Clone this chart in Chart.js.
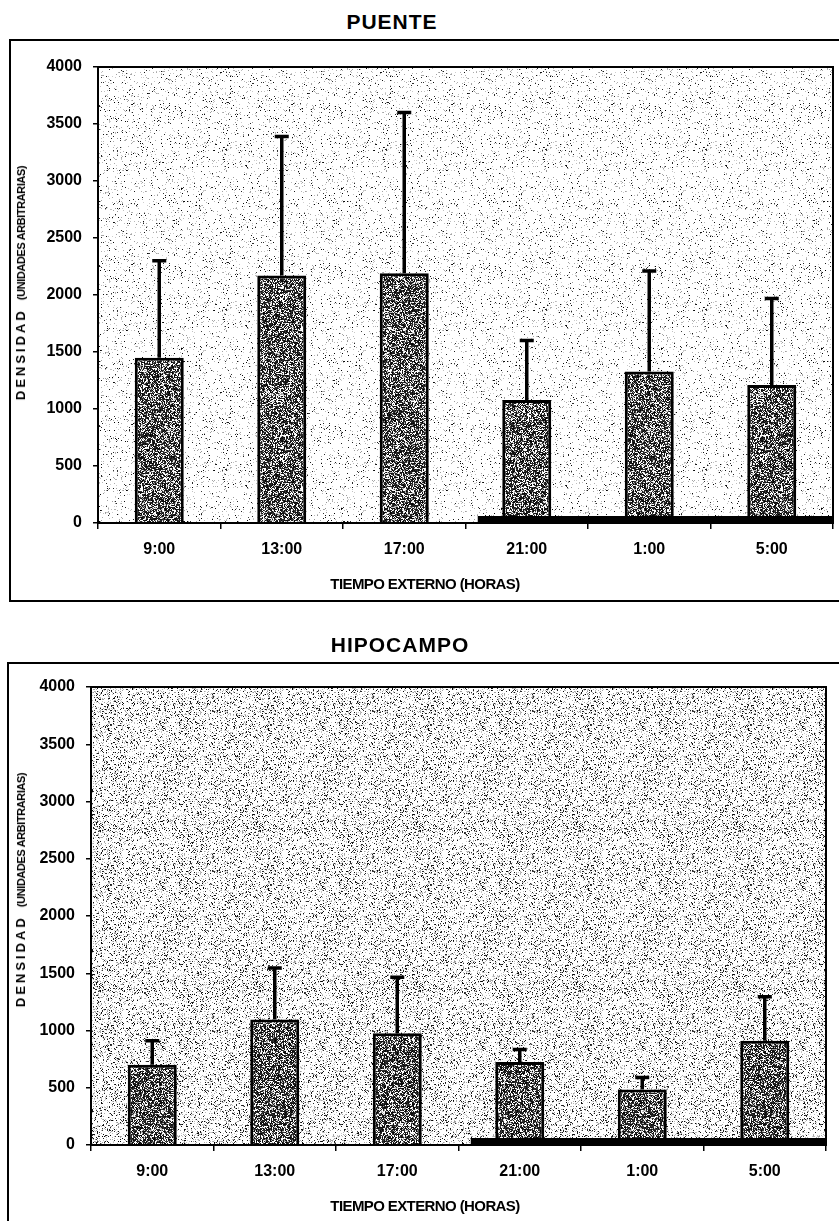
<!DOCTYPE html>
<html>
<head>
<meta charset="utf-8">
<title>PUENTE / HIPOCAMPO</title>
<script src="https://cdn.jsdelivr.net/npm/chart.js@4.4.1/dist/chart.umd.min.js"></script>
<style>
  html, body { margin: 0; padding: 0; background: #fff; }
  body { position: relative; width: 839px; height: 1221px; overflow: hidden;
         font-family: "Liberation Sans", Arial, sans-serif; color: #000; }
  canvas { position: absolute; }
  .lbl { position: absolute; transform: translate(-50%, -50%); white-space: nowrap; font-weight: bold; }
  .title { font-size: 21px; letter-spacing: 1px; }
  .xt { font-family: "Liberation Sans Narrow", "Arial Narrow", "Liberation Sans", Arial, sans-serif;
        font-size: 15px; letter-spacing: -0.6px; }
  .yt { transform: translate(-50%, -50%) rotate(-90deg); }
  .yt .d { font-size: 13px; letter-spacing: 3px; }
  .yt .u { font-family: "Liberation Sans Narrow", "Arial Narrow", "Liberation Sans", Arial, sans-serif;
           font-size: 11px; letter-spacing: -0.4px; margin-left: 8px; }
</style>
</head>
<body>

<div class="lbl title" style="left:392px; top:22px;">PUENTE</div>
<canvas id="puente" width="830" height="563" style="left:9px; top:39px;"></canvas>
<div class="lbl yt" style="left:20px; top:283px;"><span class="d">DENSIDAD</span><span class="u">(UNIDADES ARBITRARIAS)</span></div>
<div class="lbl xt" style="left:425px; top:583px;">TIEMPO EXTERNO (HORAS)</div>

<div class="lbl title" style="left:400px; top:645px;">HIPOCAMPO</div>
<canvas id="hipocampo" width="832" height="559" style="left:7px; top:662px;"></canvas>
<div class="lbl yt" style="left:20px; top:890px;"><span class="d">DENSIDAD</span><span class="u">(UNIDADES ARBITRARIAS)</span></div>
<div class="lbl xt" style="left:425px; top:1205px;">TIEMPO EXTERNO (HORAS)</div>

<script>
// ---- data ----
const hours = ["9:00", "13:00", "17:00", "21:00", "1:00", "5:00"];
const densityMax = 4000;
const densityStep = 500;

const puenteMean = [1450, 2170, 2190, 1080, 1330, 1210];
const puenteSD   = [850, 1220, 1410, 520, 880, 760];

const hipocampoMean = [700, 1095, 975, 725, 485, 910];
const hipocampoSD   = [210, 450, 490, 110, 105, 385];

// dark phase (thick bar on the baseline), in category-index units
const darkPhase = [2.6, 5.5];

/* stippled textures so the plot looks like the photocopied original */
const Texture = {
  rng(seed) {
    return function () {
      seed |= 0; seed = seed + 0x6D2B79F5 | 0;
      let t = Math.imul(seed ^ seed >>> 15, 1 | seed);
      t = t + Math.imul(t ^ t >>> 7, 61 | t) ^ t;
      return ((t ^ t >>> 14) >>> 0) / 4294967296;
    };
  },

  stipple(ctx, dark, mid, seed) {
    const size = 160;
    const tile = document.createElement("canvas");
    tile.width = tile.height = size;
    const g = tile.getContext("2d");
    const img = g.createImageData(size, size);
    const r = this.rng(seed);
    for (let i = 0; i < size * size; i++) {
      const p = r();
      let v = 255;
      if (p < dark) v = Math.floor(r() * 60);
      else if (p < dark + mid) v = 150 + Math.floor(r() * 60);
      img.data[i * 4] = img.data[i * 4 + 1] = img.data[i * 4 + 2] = v;
      img.data[i * 4 + 3] = 255;
    }
    g.putImageData(img, 0, 0);
    return ctx.createPattern(tile, "repeat");
  },
};

const Plots = {
  build(id, means, sds, geo) {
    const canvas = document.getElementById(id);
    const ctx = canvas.getContext("2d");
    const bgFill = Texture.stipple(ctx, geo.bgDark, geo.bgMid, geo.seed);
    const barFill = Texture.stipple(ctx, 0.6, 0.15, geo.seed + 7);

    const frame = {
      id: "frame",
      beforeDraw(chart) {
        const c = chart.ctx, a = chart.chartArea;
        c.save();
        c.fillStyle = "#fff";
        c.fillRect(0, 0, chart.width, chart.height);
        c.strokeStyle = "#000";
        c.lineWidth = 2;
        c.strokeRect(1, 1, chart.width + 10, geo.boxBottom ? chart.height - 2 : chart.height + 10);
        c.fillStyle = bgFill;
        c.fillRect(a.left, a.top, a.right - a.left, a.bottom - a.top);
        c.restore();
      },
      afterDatasetsDraw(chart) {
        const c = chart.ctx, a = chart.chartArea;
        const xs = chart.scales.x, ys = chart.scales.y;
        const meta = chart.getDatasetMeta(0);
        c.save();
        c.strokeStyle = "#000";
        c.lineWidth = 3.5;
        c.lineCap = "butt";
        // upward error bars with cap
        meta.data.forEach((bar, i) => {
          const yTop = ys.getPixelForValue(means[i] + sds[i]);
          c.beginPath();
          c.moveTo(bar.x, bar.y);
          c.lineTo(bar.x, yTop);
          c.moveTo(bar.x - 7, yTop);
          c.lineTo(bar.x + 7, yTop);
          c.stroke();
        });
        // dark phase band on the baseline
        const y0 = ys.getPixelForValue(0);
        const x1 = xs.getPixelForValue(darkPhase[0]);
        const x2 = xs.getPixelForValue(darkPhase[1]);
        c.fillStyle = "#000";
        c.fillRect(x1, y0 - 7, x2 - x1, 8);
        // plot frame
        c.lineWidth = 2;
        c.strokeRect(a.left, a.top, a.right - a.left, a.bottom - a.top);
        c.restore();
      },
    };

    const tickFont = { family: "'Liberation Sans', Arial, sans-serif", size: 16, weight: "bold" };

    return new Chart(canvas, {
      type: "bar",
      data: {
        labels: hours,
        datasets: [{
          data: means,
          backgroundColor: barFill,
          borderColor: "#000",
          borderWidth: 3,
          barPercentage: 0.4,
          categoryPercentage: 1.0,
        }],
      },
      options: {
        responsive: false,
        animation: false,
        events: [],
        layout: { padding: { top: geo.padTop, right: geo.padRight, left: 0, bottom: 0 } },
        plugins: { legend: { display: false }, tooltip: { enabled: false }, title: { display: false } },
        scales: {
          x: {
            grid: { drawOnChartArea: false, color: "#000", lineWidth: 1.5, tickLength: 6, offset: true },
            border: { display: true, color: "#000", width: 2 },
            ticks: { color: "#000", font: tickFont, padding: 11, maxRotation: 0 },
            afterFit(scale) { scale.height = geo.xHeight; },
          },
          y: {
            min: 0,
            max: densityMax,
            grid: { drawOnChartArea: false, color: "#000", lineWidth: 1.5, tickLength: 5 },
            border: { display: true, color: "#000", width: 2 },
            ticks: { stepSize: densityStep, color: "#000", font: tickFont, padding: 11,
                     callback: (v) => String(v) },
            afterFit(scale) { scale.width = geo.yWidth; },
          },
        },
      },
      plugins: [frame],
    });
  },
};

Plots.build("puente", puenteMean, puenteSD,
  { padTop: 28, padRight: 6, xHeight: 79, yWidth: 89, bgDark: 0.03, bgMid: 0.06, seed: 11, boxBottom: true });
Plots.build("hipocampo", hipocampoMean, hipocampoSD,
  { padTop: 25, padRight: 13, xHeight: 76, yWidth: 84, bgDark: 0.1, bgMid: 0.14, seed: 23, boxBottom: false });
</script>
</body>
</html>
